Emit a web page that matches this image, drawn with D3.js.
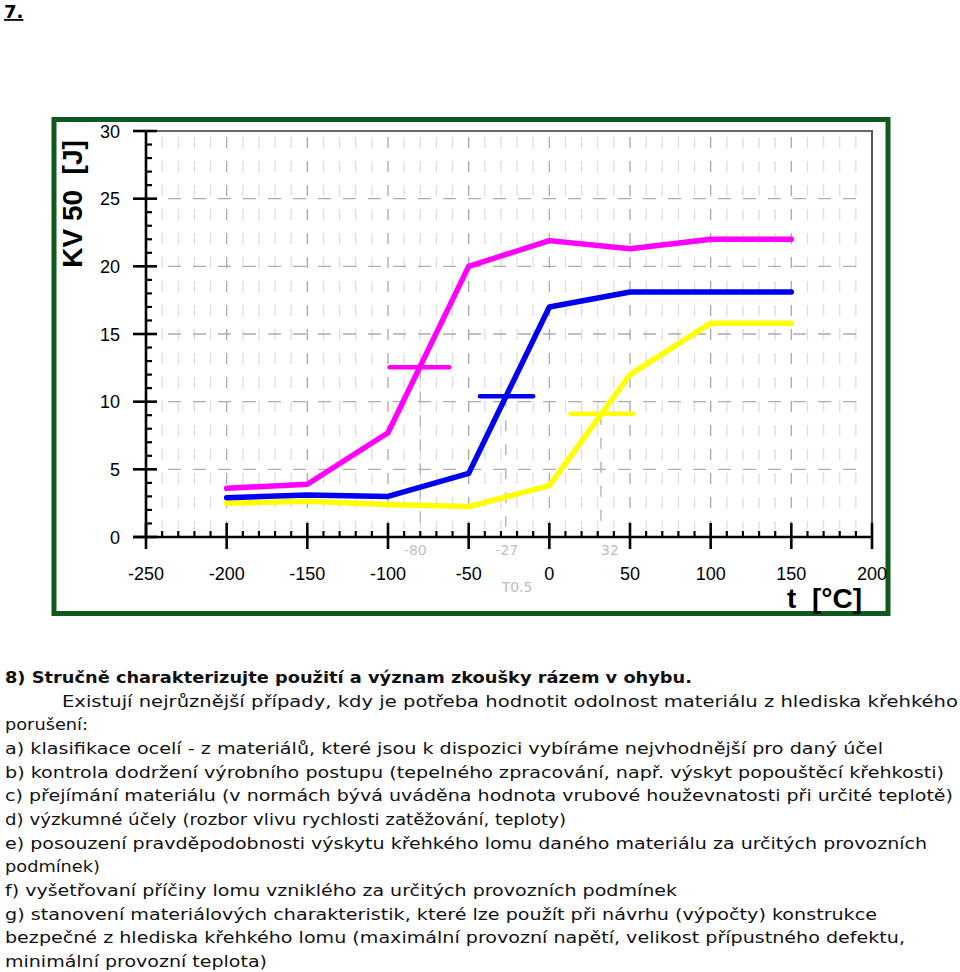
<!DOCTYPE html>
<html><head><meta charset="utf-8">
<script src="https://cdn.jsdelivr.net/npm/d3@7"></script>
<style>
body{margin:0;background:#fff;}
svg{display:block;}
</style></head>
<body>
<svg id="c" width="960" height="972"></svg>
<script>
// ---- data ----
const temps = [-200, -150, -100, -50, 0, 50, 100, 150];
const magentaKV = [3.6, 3.9, 7.7, 20.0, 21.9, 21.3, 22.0, 22.0];
const blueKV    = [2.9, 3.1, 3.0, 4.7, 17.0, 18.1, 18.1, 18.1];
const yellowKV  = [2.5, 2.65, 2.4, 2.25, 3.8, 12.0, 15.8, 15.8];
// transition temperature markers (T0.5): [from, to, level]
const magentaBar = [-99, -62, 12.55];
const blueBar    = [-43, -10, 10.4];
const yellowBar  = [13, 52, 9.1];
const transLabels = ["-80", "-27", "32"];
const transTemps  = [-80, -27, 32];
const xTicks = [-250, -200, -150, -100, -50, 0, 50, 100, 150, 200];
const yTicks = [0, 5, 10, 15, 20, 25, 30];
const textLines = [
 "8) Stručně charakterizujte použití a význam zkoušky rázem v ohybu.",
 "Existují nejrůznější případy, kdy je potřeba hodnotit odolnost materiálu z hlediska křehkého",
 "porušení:",
 "a) klasifikace ocelí - z materiálů, které jsou k dispozici vybíráme nejvhodnější pro daný účel",
 "b) kontrola dodržení výrobního postupu (tepelného zpracování, např. výskyt popouštěcí křehkosti)",
 "c) přejímání materiálu (v normách bývá uváděna hodnota vrubové houževnatosti při určité teplotě)",
 "d) výzkumné účely (rozbor vlivu rychlosti zatěžování, teploty)",
 "e) posouzení pravděpodobnosti výskytu křehkého lomu daného materiálu za určitých provozních",
 "podmínek)",
 "f) vyšetřovaní příčiny lomu vzniklého za určitých provozních podmínek",
 "g) stanovení materiálových charakteristik, které lze použít při návrhu (výpočty) konstrukce",
 "bezpečné z hlediska křehkého lomu (maximální provozní napětí, velikost přípustného defektu,",
 "minimální provozní teplota)"
];
// layout for text lines: [x start, x end]
const textLayout = [[5,692],[62,958],[5,88],[5,883],[5,944],[5,953],[5,566],[5,927],[5,100],[5,677],[5,877],[5,905],[5,267]];

// ---- drawing ----
const svg = d3.select("#c");
const x = d3.scaleLinear().domain([-250, 200]).range([146, 872]);
const y = d3.scaleLinear().domain([0, 30]).range([537, 131]);

// "7." heading
svg.append("text").attr("x", 4).attr("y", 18)
  .attr("font-family", "DejaVu Sans").attr("font-weight", "bold").attr("font-size", 18)
  .attr("text-decoration", "underline").attr("fill", "#000").text("7.");

// green frame
svg.append("rect").attr("x", 54).attr("y", 119.5).attr("width", 834).attr("height", 494)
  .attr("fill", "none").attr("stroke", "#0e5a1e").attr("stroke-width", 5);

const g = svg.append("g");

// vertical grid
const vgrid = d3.range(-240, 200, 10);
g.selectAll(".vg").data(vgrid).join("line")
  .attr("x1", d => x(d)).attr("x2", d => x(d))
  .attr("y1", y(30) + 6).attr("y2", y(0) - 8)
  .attr("stroke", d => d % 50 === 0 ? "#a8a8a8" : "#dcdcdc")
  .attr("stroke-width", 1.3)
  .attr("stroke-dasharray", "11,13");
// horizontal grid
g.selectAll(".hg").data([5, 10, 15, 20, 25]).join("line")
  .attr("x1", x(-250) + 22).attr("x2", x(200) - 10)
  .attr("y1", d => y(d)).attr("y2", d => y(d))
  .attr("stroke", "#acacac").attr("stroke-width", 1.3)
  .attr("stroke-dasharray", "13,12");
// drop lines at transition temps
const bars = [magentaBar, blueBar, yellowBar];
g.selectAll(".dl").data(transTemps).join("line")
  .attr("x1", d => x(d)).attr("x2", d => x(d))
  .attr("y1", (d, i) => y(bars[i][2])).attr("y2", y(0) - 10)
  .attr("stroke", "#b0b0b0").attr("stroke-width", 1.3)
  .attr("stroke-dasharray", "11,13");

// top and right border lines
g.append("line").attr("x1", x(-250) - 13).attr("x2", x(200) + 1).attr("y1", y(30)).attr("y2", y(30))
  .attr("stroke", "#333").attr("stroke-width", 1.6);
g.append("line").attr("x1", x(200)).attr("x2", x(200)).attr("y1", y(30)).attr("y2", y(0))
  .attr("stroke", "#555").attr("stroke-width", 2);

// axes
g.append("line").attr("x1", x(-250)).attr("x2", x(-250)).attr("y1", y(30)).attr("y2", y(0))
  .attr("stroke", "#000").attr("stroke-width", 2.6);
g.append("line").attr("x1", x(-250) - 13).attr("x2", x(200)).attr("y1", y(0)).attr("y2", y(0))
  .attr("stroke", "#000").attr("stroke-width", 2.6);
// y ticks
g.selectAll(".ymaj").data(yTicks).join("line")
  .attr("x1", x(-250) - 13).attr("x2", x(-250) + 11)
  .attr("y1", d => y(d)).attr("y2", d => y(d)).attr("stroke", "#000").attr("stroke-width", 2.6);
g.selectAll(".ymin").data(d3.range(1, 30).filter(d => d % 5 !== 0)).join("line")
  .attr("x1", x(-250)).attr("x2", x(-250) + 6)
  .attr("y1", d => y(d)).attr("y2", d => y(d)).attr("stroke", "#000").attr("stroke-width", 2.2);
// x ticks
g.selectAll(".xmaj").data(xTicks).join("line")
  .attr("x1", d => x(d)).attr("x2", d => x(d))
  .attr("y1", y(0) - 14).attr("y2", y(0) + 12).attr("stroke", "#000").attr("stroke-width", 2.6);
g.selectAll(".xmin").data(d3.range(-240, 200, 10).filter(d => d % 50 !== 0)).join("line")
  .attr("x1", d => x(d)).attr("x2", d => x(d))
  .attr("y1", y(0) - 6).attr("y2", y(0)).attr("stroke", "#000").attr("stroke-width", 2.2);

// tick labels
g.selectAll(".yl").data(yTicks).join("text")
  .attr("x", 120).attr("y", d => y(d) + 6.5).attr("text-anchor", "end")
  .attr("font-family", "Liberation Sans, Arial, sans-serif").attr("font-size", 18).attr("fill", "#000")
  .text(d => d);
g.selectAll(".xl").data(xTicks).join("text")
  .attr("x", d => x(d)).attr("y", 580).attr("text-anchor", "middle")
  .attr("font-family", "Liberation Sans, Arial, sans-serif").attr("font-size", 18).attr("fill", "#000")
  .text(d => d);

// transition labels
g.selectAll(".tl").data(transTemps).join("text")
  .attr("x", (d, i) => x(d) + [-5, 1, 9][i]).attr("y", 555).attr("text-anchor", "middle")
  .attr("font-family", "DejaVu Sans, sans-serif").attr("font-size", 14).attr("fill", "#bdbdbd")
  .text((d, i) => transLabels[i]);
g.append("text").attr("x", x(-20)).attr("y", 592).attr("text-anchor", "middle")
  .attr("font-family", "DejaVu Sans, sans-serif").attr("font-size", 14).attr("fill", "#bdbdbd")
  .text("T0.5");

// series
const line = d3.line().x(d => x(d[0])).y(d => y(d[1]));
const series = [
  {vals: yellowKV, color: "#ffff00", bar: yellowBar},
  {vals: blueKV, color: "#0000f0", bar: blueBar},
  {vals: magentaKV, color: "#ff00ff", bar: magentaBar}
];
series.forEach(s => {
  g.append("path").datum(temps.map((t, i) => [t, s.vals[i]]))
    .attr("d", line).attr("fill", "none").attr("stroke", s.color)
    .attr("stroke-width", 5.5).attr("stroke-linejoin", "round").attr("stroke-linecap", "round");
  g.append("line").attr("x1", x(s.bar[0])).attr("x2", x(s.bar[1]))
    .attr("y1", y(s.bar[2])).attr("y2", y(s.bar[2]))
    .attr("stroke", s.color).attr("stroke-width", 4.5).attr("stroke-linecap", "round");
});

// axis titles
svg.append("text").attr("transform", "translate(82,204) rotate(-90)")
  .attr("text-anchor", "middle").attr("font-family", "Liberation Sans, Arial, sans-serif")
  .attr("font-weight", "bold").attr("font-size", 28).attr("fill", "#000")
  .attr("xml:space", "preserve").text("KV 50  [J]");
svg.append("text").attr("x", 787).attr("y", 608)
  .attr("font-family", "Liberation Sans, Arial, sans-serif")
  .attr("font-weight", "bold").attr("font-size", 28).attr("fill", "#000")
  .attr("xml:space", "preserve").text("t  [°C]");

// text block
const tb = svg.append("g");
textLines.forEach((t, i) => {
  const [x0, x1] = textLayout[i];
  tb.append("text").attr("x", x0).attr("y", 683 + i * 23.65)
    .attr("font-family", "DejaVu Sans, Verdana, sans-serif")
    .attr("font-size", 16.5).attr("font-weight", i === 0 ? "bold" : "normal")
    .attr("fill", "#111")
    .attr("textLength", x1 - x0).attr("lengthAdjust", "spacingAndGlyphs")
    .text(t);
});
</script>
</body></html>
